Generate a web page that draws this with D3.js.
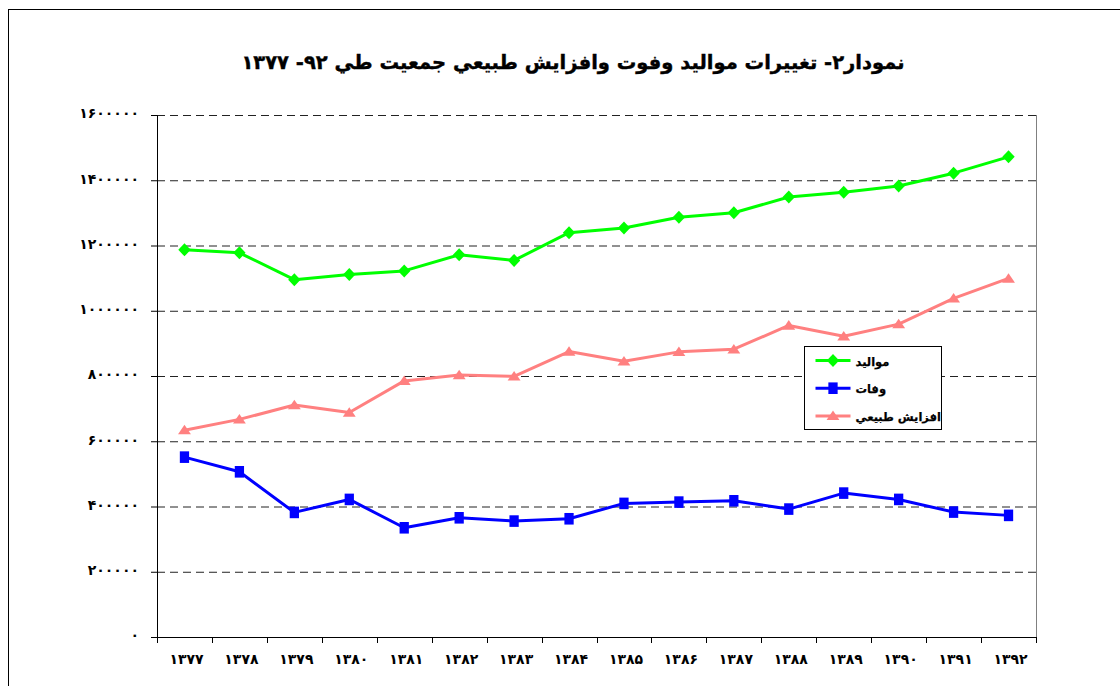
<!DOCTYPE html>
<html>
<head>
<meta charset="utf-8">
<script src="https://cdn.jsdelivr.net/npm/d3@7"></script>
<style>
  body { margin: 0; background: #fff; }
  svg text { font-family: "DejaVu Sans", sans-serif; font-weight: bold; }
</style>
</head>
<body>
<div id="container"></div>
<script>
// years (solar hijri) and the three series
var years = ["1377","1378","1379","1380","1381","1382","1383","1384",
             "1385","1386","1387","1388","1389","1390","1391","1392"];
var births = [1186700, 1177600, 1095200, 1110800, 1122100, 1171600, 1154400, 1239400,
              1253900, 1286700, 1300200, 1348500, 1363500, 1382200, 1421700, 1471800];
var deaths = [551300, 506300, 381900, 421700, 334800, 365400, 355300, 362400,
              409500, 413500, 417500, 392100, 441100, 421700, 382900, 372800];
var increase = [634000, 667000, 711000, 688000, 785000, 803000, 799000, 875000,
                845000, 874000, 882000, 955000, 922000, 959000, 1038000, 1099000];
var yTicks = [0, 200000, 400000, 600000, 800000, 1000000, 1200000, 1400000, 1600000];

var titleText = "نمودار۲- تغييرات مواليد وفوت وافزايش طبيعي جمعيت طي ۹۲- ۱۳۷۷";
var seriesNames = ["مواليد", "وفات", "افزايش طبيعي"];

var svgWidth = 1120;
var svgHeight = 686;
var plot = { left: 157, right: 1036, top: 115, bottom: 637 };

function fa(s) {
  return String(s).replace(/[0-9]/g, function(c) { return "۰۱۲۳۴۵۶۷۸۹"[+c]; });
}

var svg = d3.select("#container")
  .append("svg")
  .attr("width", svgWidth)
  .attr("height", svgHeight);

// outer frame
svg.append("rect")
  .attr("x", 8.5).attr("y", 9.5)
  .attr("width", 1200).attr("height", 800)
  .attr("fill", "none").attr("stroke", "#000").attr("stroke-width", 1);

svg.append("text")
  .attr("x", 573).attr("y", 69)
  .attr("text-anchor", "middle")
  .attr("direction", "rtl")
  .style("font-size", "19.5px")
  .style("stroke", "#000").style("stroke-width", 0.4)
  .text(titleText);

var x = d3.scaleBand()
  .domain(years)
  .range([plot.left, plot.right])
  .paddingInner(0).paddingOuter(0);

var y = d3.scaleLinear()
  .domain([0, 1600000])
  .range([plot.bottom, plot.top]);

var cx = function(d, i) { return x(years[i]) + x.bandwidth() / 2; };

// gridlines
svg.append("g")
  .attr("transform", `translate(${plot.left}, 0)`)
  .call(d3.axisLeft(y).tickValues(yTicks.slice(1)).tickSize(-(plot.right - plot.left)).tickFormat(""))
  .call(g => g.select(".domain").remove())
  .call(g => g.selectAll("line")
    .attr("stroke", "#222")
    .attr("stroke-dasharray", "8,5"));

// right border of plot area
svg.append("line")
  .attr("x1", plot.right + 0.5).attr("x2", plot.right + 0.5)
  .attr("y1", plot.top).attr("y2", plot.bottom)
  .attr("stroke", "#808080");

// y axis
var yAxis = svg.append("g")
  .attr("transform", `translate(${plot.left}, 0)`)
  .call(d3.axisLeft(y).tickValues(yTicks).tickSize(6).tickPadding(12).tickFormat(d => fa(d)));
yAxis.select(".domain").attr("stroke", "#000");
yAxis.selectAll("text")
  .style("font-size", "14px").style("letter-spacing", "5px")
  .attr("dy", "0.2em").attr("fill", "#000");

// x axis: labels centred, ticks on band edges
var xAxis = svg.append("g")
  .attr("transform", `translate(0, ${plot.bottom})`)
  .call(d3.axisBottom(x).tickSize(0).tickPadding(17).tickFormat(d => fa(d)));
xAxis.select(".domain").remove();
xAxis.selectAll("text")
  .style("font-size", "14px").style("letter-spacing", "4px")
  .attr("dx", "2px").attr("fill", "#000");

var edges = years.map(d => x(d)).concat([plot.right]);
svg.append("g").selectAll("line")
  .data(edges).enter().append("line")
  .attr("x1", d => Math.round(d) + 0.5).attr("x2", d => Math.round(d) + 0.5)
  .attr("y1", plot.bottom).attr("y2", plot.bottom + 6)
  .attr("stroke", "#000");
svg.append("line")
  .attr("x1", plot.left - 6).attr("x2", plot.right + 1)
  .attr("y1", plot.bottom + 0.5).attr("y2", plot.bottom + 0.5)
  .attr("stroke", "#000");

// markers
function diamond(s) { return `M0,${-s}L${s * 0.95},0L0,${s}L${-s * 0.95},0Z`; }
function square(s) { return `M${-s * 0.8},${-s}H${s * 0.8}V${s}H${-s * 0.8}Z`; }
function triangle(s) { return `M0,${-s * 0.95}L${s * 1.15},${s * 0.75}H${-s * 1.15}Z`; }

var series = [
  { name: seriesNames[0], values: births, color: "#00FF00", shape: diamond, size: 6.5 },
  { name: seriesNames[1], values: deaths, color: "#0000FF", shape: square, size: 5.8 },
  { name: seriesNames[2], values: increase, color: "#FF8080", shape: triangle, size: 5.6 }
];

var line = d3.line()
  .x(cx)
  .y(d => y(d));

series.forEach(function(s) {
  svg.append("path")
    .datum(s.values)
    .attr("d", line)
    .attr("fill", "none")
    .attr("stroke", s.color)
    .attr("stroke-width", 3)
    .attr("stroke-linejoin", "round");

  svg.append("g").selectAll("path")
    .data(s.values).enter().append("path")
    .attr("transform", (d, i) => `translate(${cx(d, i)}, ${y(d)})`)
    .attr("d", s.shape(s.size))
    .attr("fill", s.color);
});

// legend
var legend = svg.append("g").attr("transform", "translate(804.5, 346.5)");
legend.append("rect")
  .attr("width", 137).attr("height", 83)
  .attr("fill", "#fff").attr("stroke", "#000");

series.forEach(function(s, i) {
  var ly = 14 + i * 27.7;
  legend.append("line")
    .attr("x1", 11).attr("x2", 46)
    .attr("y1", ly).attr("y2", ly)
    .attr("stroke", s.color).attr("stroke-width", 3);
  legend.append("path")
    .attr("transform", `translate(28.5, ${ly})`)
    .attr("d", s.shape(s.size))
    .attr("fill", s.color);
  legend.append("text")
    .attr("x", 51).attr("y", ly + 5)
    .attr("text-anchor", "end")
    .attr("direction", "rtl")
    .style("font-size", "11.5px")
    .style("stroke", "#000").style("stroke-width", 0.25)
    .text(s.name);
});
</script>
</body>
</html>
